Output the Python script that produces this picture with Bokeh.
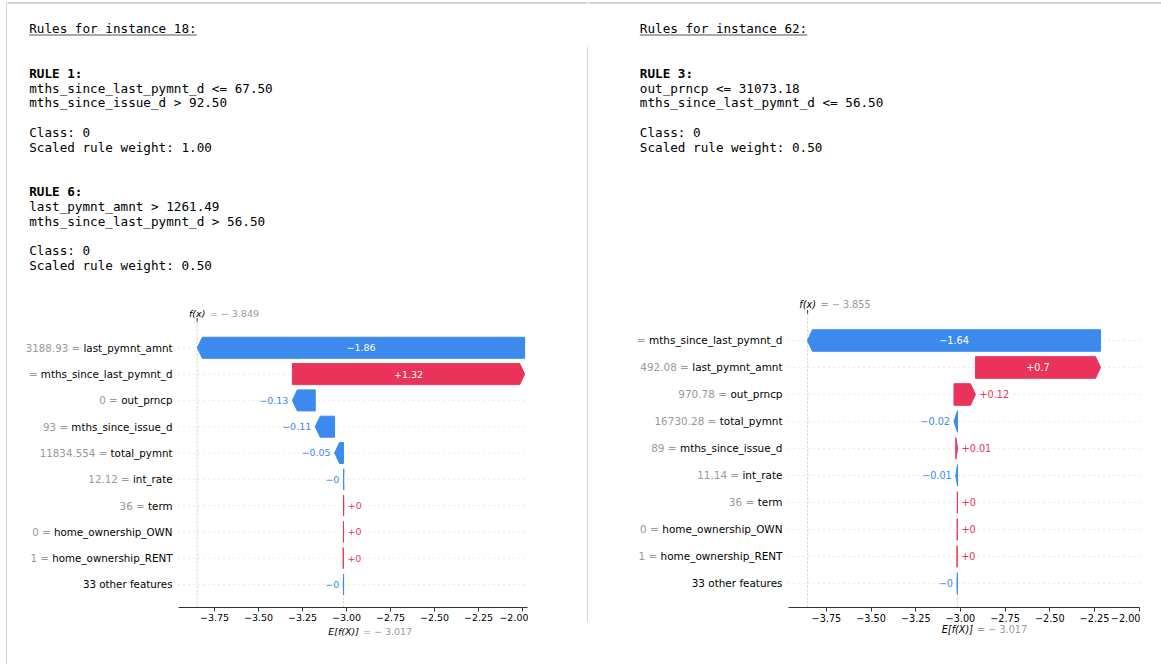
from bokeh.plotting import figure
from bokeh.models import (Range1d, FixedTicker, CustomJSTickFormatter, ColumnDataSource, Spacer)
from bokeh.layouts import row, column
from bokeh.core.properties import value
from bokeh.embed import file_html
from bokeh.resources import INLINE

# ------------------------------------------------------------------ data
# rules text, instance 18
title_18 = "Rules for instance 18:"
rule_ids_18 = ["RULE 1:", "RULE 6:"]
rule_conds_18 = [["mths_since_last_pymnt_d <= 67.50", "mths_since_issue_d > 92.50"],
                 ["last_pymnt_amnt > 1261.49", "mths_since_last_pymnt_d > 56.50"]]
rule_class_18 = ["0", "0"]
rule_weight_18 = ["1.00", "0.50"]

# rules text, instance 62
title_62 = "Rules for instance 62:"
rule_ids_62 = ["RULE 3:"]
rule_conds_62 = [["out_prncp <= 31073.18", "mths_since_last_pymnt_d <= 56.50"]]
rule_class_62 = ["0"]
rule_weight_62 = ["0.50"]

# waterfall, instance 18 (top row first); "" = value not visible, None = no value
features_18 = ["last_pymnt_amnt", "mths_since_last_pymnt_d", "out_prncp", "mths_since_issue_d",
               "total_pymnt", "int_rate", "term", "home_ownership_OWN", "home_ownership_RENT",
               "33 other features"]
feat_values_18 = ["3188.93", "", "0", "93", "11834.554", "12.12", "36", "0", "1", None]
shap_18 = [-1.86, 1.32, -0.13, -0.11, -0.05, -0.002, 0.001, 0.001, 0.001, -0.002]
fx_18 = -3.849
base_18 = -3.017

# waterfall, instance 62 (top row first)
features_62 = ["mths_since_last_pymnt_d", "last_pymnt_amnt", "out_prncp", "total_pymnt",
               "mths_since_issue_d", "int_rate", "term", "home_ownership_OWN",
               "home_ownership_RENT", "33 other features"]
feat_values_62 = ["", "492.08", "970.78", "16730.28", "89", "11.14", "36", "0", "1", None]
shap_62 = [-1.64, 0.7, 0.12, -0.02, 0.01, -0.01, 0.001, 0.001, 0.001, -0.002]
fx_62 = -3.855
base_62 = -3.017

x_tick_values = [-3.75, -3.5, -3.25, -3.0, -2.75, -2.5, -2.25, -2.0]

# ------------------------------------------------------------------ style
BLUE = "#3d8aee"
RED = "#ea335a"
GRAY_TXT = "#999999"
BORDER = "#a8a8a8"
MONO = "DejaVu Sans Mono"
SANS = "DejaVu Sans"

_W = {' ': .318, '.': .318, '=': .838, '_': .5, '\u2212': .838, '+': .838, '(': .390, ')': .390,
      '[': .390, ']': .390, 'a': .613, 'b': .635, 'c': .550, 'd': .635, 'e': .615, 'f': .352,
      'g': .635, 'h': .634, 'i': .278, 'j': .278, 'k': .579, 'l': .278, 'm': .974, 'n': .634,
      'o': .612, 'p': .635, 'q': .635, 'r': .411, 's': .521, 't': .392, 'u': .634, 'v': .592,
      'w': .818, 'x': .592, 'y': .592, 'z': .525, 'E': .632, 'N': .748, 'O': .787, 'R': .695,
      'T': .611, 'W': .989, 'X': .686}
for _d in "0123456789":
    _W[_d] = .636


def tw(s, size):
    return sum(_W.get(c, .6) for c in s) * size


def fmt_bar(v):
    s = f"{abs(v):.2f}".rstrip("0").rstrip(".")
    return ("+" if v > 0 else "\u2212") + s


def fmt_num(v):
    return ("= \u2212 " if v < 0 else "= ") + f"{abs(v):.3f}"


def blank_fig(w, h):
    p = figure(width=w, height=h, x_range=Range1d(0, w), y_range=Range1d(h, 0),
               x_axis_type=None, y_axis_type=None, min_border=0, title=None,
               toolbar_location=None, output_backend="svg", outline_line_color=None)
    p.background_fill_color = "white"
    p.border_fill_color = "white"
    return p


def rules_panel(w, h, x_text, title, ids, conds, classes, weights):
    p = blank_fig(w, h)
    p.segment(x0=[0], y0=[2.5], x1=[w], y1=[2.5], line_color=BORDER, line_width=1)
    fs = 12.65
    p.text(x=[x_text], y=[28.3], text=[title], text_baseline="middle", text_font=value(MONO),
           text_font_size=value(f"{fs}px"), text_color="black")
    p.segment(x0=[x_text], y0=[34.5], x1=[x_text + len(title) * 0.602 * fs], y1=[34.5],
              line_color="#555555", line_width=1)
    step = 14.8
    y = 72.7
    by, bt, ny, nt = [], [], [], []
    for rid, cs, c, wt in zip(ids, conds, classes, weights):
        by.append(y); bt.append(rid); y += step
        for cnd in cs:
            ny.append(y); nt.append(cnd); y += step
        y += step
        ny.append(y); nt.append(f"Class: {c}"); y += step
        ny.append(y); nt.append(f"Scaled rule weight: {wt}"); y += step
        y += 2 * step
    p.text(x=[x_text] * len(by), y=by, text=bt, text_baseline="middle", text_font=value(MONO),
           text_font_size=value(f"{fs}px"), text_font_style="bold", text_color="black")
    p.text(x=[x_text] * len(ny), y=ny, text=nt, text_baseline="middle", text_font=value(MONO),
           text_font_size=value(f"{fs}px"), text_color="black")
    return p


def waterfall(features, fvals, shap, fx, base, x0, x1, y0, frame_w, frame_h,
              top, bottom, lab_fs, tick_fs, fx_dy, e_dy):
    n = len(features)
    y1 = n
    ppu = frame_w / (x1 - x0)
    ppy = frame_h / (y1 - y0)
    left_pad, right_pad = 153, 1
    X0 = x0 - left_pad / ppu
    X1 = x1 + right_pad / ppu
    Y0 = y0 - bottom / ppy
    Y1 = y1 + top / ppy
    p = figure(width=left_pad + frame_w + right_pad, height=top + frame_h + bottom,
               x_range=Range1d(X0, X1), y_range=Range1d(Y0, Y1), y_axis_type=None,
               min_border=0, title=None, toolbar_location=None,
               output_backend="svg", outline_line_color=None)
    p.background_fill_color = "white"
    p.border_fill_color = "white"
    p.xgrid.visible = False

    rows = [n - 1 - i for i in range(n)]

    # x axis, drawn at the bottom of the waterfall area
    xa = p.xaxis[0]
    xa.fixed_location = y0
    xa.bounds = (x0, x1)
    xa.ticker = FixedTicker(ticks=x_tick_values, minor_ticks=[])
    xa.formatter = CustomJSTickFormatter(code="return tick.toFixed(2).replace('-', '\u2212');")
    xa.axis_line_color = "#333333"
    xa.major_tick_line_color = "#333333"
    xa.minor_tick_line_color = None
    xa.major_tick_out = 4
    xa.major_tick_in = 0
    xa.major_label_standoff = 2
    xa.major_label_text_font = SANS
    xa.major_label_text_font_size = f"{tick_fs}px"
    xa.major_label_text_color = "black"

    # row guide lines
    p.segment(x0=[x0] * n, y0=rows, x1=[x1] * n, y1=rows, line_color="#cccccc",
              line_dash="1 4", line_width=0.8)
    # f(x) and E[f(X)] guide lines, f(x) tick
    p.segment(x0=[fx], y0=[y0], x1=[fx], y1=[y1], line_color="#bbbbbb",
              line_dash="2 2", line_width=0.8)
    p.segment(x0=[base], y0=[y0], x1=[base], y1=[y0 + (y1 - y0) / n],
              line_color="#bbbbbb", line_dash="2 2", line_width=0.8)
    p.segment(x0=[fx], y0=[y1], x1=[fx], y1=[y1 + 3.5 / ppy], line_color="#333333",
              line_width=1)

    # cumulative positions, from the bottom row up
    starts = [0.0] * n
    ends = [0.0] * n
    cur = base
    for i in range(n - 1, -1, -1):
        starts[i] = cur
        cur = cur + shap[i]
        ends[i] = cur

    hl_max = 5.0 / ppu
    hh = 0.4
    xs, ys, cols = [], [], []
    tx, ty, tt, ta_, tc, to = [], [], [], [], [], []
    for i in range(n):
        yy = rows[i]
        s, e = starts[i], ends[i]
        d = e - s
        hl = min(abs(d), hl_max)
        if d >= 0:
            px = [s, e - hl, e, e - hl, s]
        else:
            px = [s, e + hl, e, e + hl, s]
        xs.append(px)
        ys.append([yy - hh, yy - hh, yy, yy + hh, yy + hh])
        col = RED if d >= 0 else BLUE
        cols.append(col)
        lbl = fmt_bar(d)
        if tw(lbl, tick_fs) + 6 < abs(d) * ppu:
            tx.append((s + e) / 2); ta_.append("center"); tc.append("white"); to.append(0)
        elif d >= 0:
            tx.append(e); ta_.append("left"); tc.append(col); to.append(4)
        else:
            tx.append(e); ta_.append("right"); tc.append(col); to.append(-4)
        ty.append(yy); tt.append(lbl)

    p.patches(xs="xs", ys="ys", fill_color="c", line_color="c", line_width=1,
              source=ColumnDataSource(dict(xs=xs, ys=ys, c=cols)))
    p.text(x="x", y="y", text="t", text_align="a", text_color="c", x_offset="o",
           text_baseline="middle", text_font=value(SANS), text_font_size=value(f"{tick_fs}px"),
           source=ColumnDataSource(dict(x=tx, y=ty, t=tt, a=ta_, c=tc, o=to)))

    # feature names (black) and their values (gray)
    p.text(x=[x0] * n, y=rows, text=features, x_offset=-6, text_align="right",
           text_baseline="middle", text_color="black", text_font=value(SANS),
           text_font_size=value(f"{lab_fs}px"))
    gx, gy, gt, go = [], [], [], []
    for i in range(n):
        if fvals[i] is None:
            continue
        gx.append(x0); gy.append(rows[i])
        gt.append((fvals[i] + " =") if fvals[i] else "=")
        go.append(-(6 + tw(features[i], lab_fs) + tw(" ", lab_fs)))
    p.text(x="x", y="y", text="t", x_offset="o", text_align="right", text_baseline="middle",
           text_color=GRAY_TXT, text_font=value(SANS), text_font_size=value(f"{lab_fs}px"),
           source=ColumnDataSource(dict(x=gx, y=gy, t=gt, o=go)))

    # f(x) and E[f(X)] labels
    fy = y1 + fx_dy / ppy
    ey = y0 - e_dy / ppy
    wf = tw("f(x)", tick_fs)
    we = tw("E[f(X)]", tick_fs)
    p.text(x=[fx, base], y=[fy, ey], text=["f(x)", "E[f(X)]"], text_align="center",
           text_baseline="middle", text_font=value(SANS), text_font_style="italic",
           text_font_size=value(f"{tick_fs}px"), text_color="black")
    p.text(x=[fx, base], y=[fy, ey], text=[fmt_num(fx), fmt_num(base)],
           x_offset=[wf / 2 + 4.5, we / 2 + 4], text_align="left", text_baseline="middle",
           text_font=value(SANS), text_font_size=value(f"{tick_fs}px"), text_color=GRAY_TXT)
    return p


# ------------------------------------------------------------------ build
gutter = blank_fig(7, 664)
gutter.segment(x0=[6.5, 6], y0=[2, 2.5], x1=[6.5, 7], y1=[664, 2.5],
               line_color=BORDER, line_width=1)

divider = blank_fig(2, 664)
divider.segment(x0=[0], y0=[2.5], x1=[2], y1=[2.5], line_color=BORDER, line_width=1)
divider.segment(x0=[1], y0=[46.7], x1=[1], y1=[621.7], line_color="#d2d2d2", line_width=1.3)

left_text = rules_panel(579, 300, 21.7, title_18, rule_ids_18, rule_conds_18,
                        rule_class_18, rule_weight_18)
right_text = rules_panel(573, 290, 51.3, title_62, rule_ids_62, rule_conds_62,
                         rule_class_62, rule_weight_62)

wf_left = waterfall(features_18, feat_values_18, shap_18, fx_18, base_18,
                    -3.955, -1.972, -0.875, 349, 286, 21, 57, 10.3, 9.5, 8.3, 24.0)
wf_right = waterfall(features_62, feat_values_62, shap_62, fx_62, base_62,
                     -3.962, -1.998, -0.89, 351, 294, 23, 57, 10.45, 9.7, 8.7, 22.3)

left_col = column(left_text,
                  row(Spacer(width=18, height=364), wf_left, Spacer(width=58, height=364)))
right_col = column(right_text,
                   row(Spacer(width=47, height=374), wf_right, Spacer(width=21, height=374)))

page = row(gutter, left_col, divider, right_col)

open("out.html", "w", encoding="utf-8").write(file_html(page, INLINE, title="rules"))
